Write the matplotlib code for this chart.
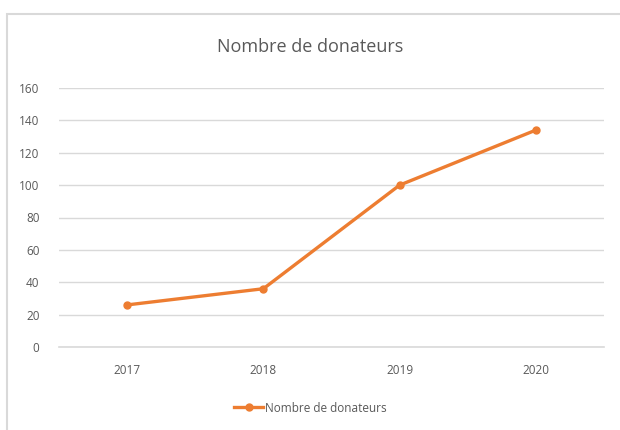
import matplotlib.pyplot as plt
from matplotlib.patches import Rectangle

# data
years = ["2017", "2018", "2019", "2020"]
donateurs = [26, 36, 100, 134]
y_ticks = [0, 20, 40, 60, 80, 100, 120, 140, 160]

plt.rcParams['font.family'] = ['Open Sans', 'DejaVu Sans']

fig = plt.figure(figsize=(6.2, 4.3), dpi=100)
fig.patch.set_facecolor("white")

# chart frame
fig.patches.append(Rectangle((7 / 620, -0.01), 1.0, (430 - 14) / 430 + 0.01,
                             transform=fig.transFigure, fill=False,
                             edgecolor="#d9d9d9", linewidth=1.5))

ax = fig.add_axes([59 / 620, 83 / 430, (604 - 59) / 620, (347 - 88) / 430])

x = range(len(years))
ax.plot(x, donateurs, color="#ED7D31", linewidth=2.4, marker="o",
        markersize=5, label="Nombre de donateurs", zorder=3)

ax.set_xlim(-0.5, len(years) - 0.5)
ax.set_ylim(0, 160)
ax.set_yticks(y_ticks)
ax.set_xticks(list(x))
ax.set_xticklabels(years)
ax.grid(axis="y", color="#d9d9d9", linewidth=1)
ax.axhline(0, color="#d9d9d9", linewidth=1.2, clip_on=False, zorder=1)
ax.set_axisbelow(True)
for s in ax.spines.values():
    s.set_visible(False)
ax.tick_params(length=0, colors="#595959", labelsize=8.5)
ax.tick_params(axis="x", pad=12)
ax.tick_params(axis="y", pad=14)

fig.text(0.5, 1 - 47 / 430, "Nombre de donateurs", ha="center", va="center",
         fontsize=13, color="#595959")

fig.legend(loc="center", bbox_to_anchor=(0.5, 1 - 408 / 430), frameon=False,
           fontsize=8.5, labelcolor="#595959", handlelength=2.5,
           handletextpad=0.1)

fig.savefig("out.png", dpi=100)
